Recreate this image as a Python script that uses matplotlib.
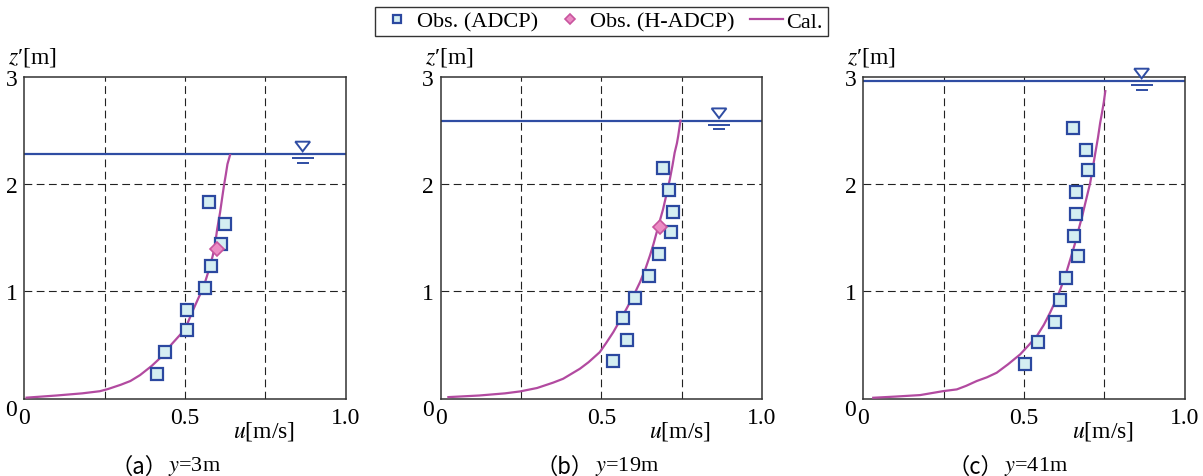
import matplotlib

matplotlib.use("Agg")
import matplotlib.pyplot as plt
from matplotlib.patches import Polygon
from matplotlib.transforms import blended_transform_factory

plt.rcParams["font.family"] = ["Liberation Serif", "Noto Sans CJK JP"]
plt.rcParams["mathtext.fontset"] = "stix"

SERIF = "Liberation Serif"

# observed (ADCP) velocity profiles, u [m/s] vs z' [m]
adcp_u_a = [0.412, 0.437, 0.506, 0.506, 0.562, 0.580, 0.611, 0.624, 0.574]
adcp_z_a = [0.233, 0.435, 0.637, 0.827, 1.032, 1.237, 1.446, 1.629, 1.834]
adcp_u_b = [0.537, 0.580, 0.568, 0.605, 0.649, 0.679, 0.716, 0.722, 0.710, 0.691]
adcp_z_b = [0.347, 0.549, 0.756, 0.939, 1.147, 1.351, 1.553, 1.742, 1.943, 2.148]
adcp_u_c = [0.502, 0.544, 0.595, 0.613, 0.631, 0.669, 0.657, 0.663, 0.663, 0.700,
            0.693, 0.651]
adcp_z_c = [0.323, 0.528, 0.714, 0.919, 1.124, 1.329, 1.516, 1.720, 1.925, 2.130,
            2.317, 2.522]

# H-ADCP points (no H-ADCP in panel c)
hadcp_u_a = [0.601]
hadcp_z_a = [1.396]
hadcp_u_b = [0.682]
hadcp_z_b = [1.602]

# computed profiles
cal_u_a = [0.007, 0.10, 0.18, 0.235, 0.26, 0.30, 0.33, 0.36, 0.396, 0.43, 0.458,
           0.48, 0.50, 0.513, 0.526, 0.542, 0.557, 0.568, 0.578, 0.586, 0.593,
           0.600, 0.609, 0.615, 0.621, 0.627, 0.632, 0.640]
cal_z_a = [0.01, 0.03, 0.05, 0.07, 0.09, 0.13, 0.165, 0.22, 0.305, 0.40, 0.507,
           0.58, 0.647, 0.74, 0.833, 0.94, 1.035, 1.14, 1.237, 1.33, 1.424,
           1.58, 1.735, 1.86, 1.983, 2.09, 2.186, 2.27]
cal_u_b = [0.024, 0.12, 0.20, 0.247, 0.30, 0.35, 0.381, 0.433, 0.46, 0.495, 0.515,
           0.537, 0.558, 0.578, 0.600, 0.620, 0.637, 0.651, 0.662, 0.672, 0.682,
           0.692, 0.703, 0.713, 0.721, 0.728, 0.735, 0.739, 0.746]
cal_z_b = [0.015, 0.03, 0.05, 0.068, 0.10, 0.15, 0.186, 0.279, 0.34, 0.434, 0.52,
           0.62, 0.73, 0.837, 0.96, 1.085, 1.21, 1.333, 1.44, 1.55, 1.66,
           1.767, 1.91, 2.045, 2.17, 2.293, 2.38, 2.448, 2.59]
cal_u_c = [0.031, 0.10, 0.177, 0.249, 0.291, 0.32, 0.353, 0.385, 0.415, 0.45,
           0.488, 0.515, 0.540, 0.562, 0.581, 0.598, 0.613, 0.630, 0.644, 0.658,
           0.670, 0.681, 0.691, 0.706, 0.714, 0.722, 0.730, 0.737, 0.743, 0.748,
           0.753]
cal_z_c = [0.009, 0.02, 0.034, 0.071, 0.087, 0.12, 0.165, 0.20, 0.242, 0.32,
           0.413, 0.50, 0.584, 0.69, 0.801, 0.91, 1.019, 1.16, 1.298, 1.44,
           1.578, 1.70, 1.826, 2.012, 2.15, 2.292, 2.43, 2.571, 2.67, 2.758,
           2.866]

water_levels = [2.28, 2.59, 2.96]
x_ticks = [0, 0.5, 1.0]
x_ticklabels = ["0", "0.5", "1.0"]
y_ticks = [0, 1, 2, 3]
y_ticklabels = ["0", "1", "2", "3"]
panel_tags = ["（a）", "（b）", "（c）"]
panel_y = ["$y$=3m", "$y$=19m", "$y$=41m"]

C_CAL = "#b24aa0"
C_SQ_EDGE = "#2b48a0"
C_SQ_FACE = "#d4eef2"
C_DIA_EDGE = "#c8559e"
C_DIA_FACE = "#ec8cc4"
C_WATER = "#2f4da3"

panels = [
    (adcp_u_a, adcp_z_a, hadcp_u_a, hadcp_z_a, cal_u_a, cal_z_a),
    (adcp_u_b, adcp_z_b, hadcp_u_b, hadcp_z_b, cal_u_b, cal_z_b),
    (adcp_u_c, adcp_z_c, [], [], cal_u_c, cal_z_c),
]
lefts = [0.0202, 0.3663, 0.7176]
tag_split = [0.444, 0.477, 0.435]

fig = plt.figure(figsize=(12.03, 4.77), dpi=100)
handles = None
for i, (au, az, hu, hz, cu, cz) in enumerate(panels):
    ax = fig.add_axes([lefts[i], 0.162, 0.2672, 0.675])
    ax.set_xlim(0, 1.0)
    ax.set_ylim(0, 3)
    ax.set_xticks(x_ticks)
    ax.set_xticklabels(x_ticklabels, fontfamily=SERIF, fontsize=17)
    ax.set_yticks(y_ticks)
    ax.set_yticklabels(y_ticklabels, fontfamily=SERIF, fontsize=17)
    ax.tick_params(length=0)
    ax.tick_params(axis="x", pad=6)
    ax.tick_params(axis="y", pad=5)
    # the bottom "0" sits a little lower than the axis line
    ax.get_yticklabels()[0].set_va("top")
    for s in ax.spines.values():
        s.set_color("#333333")
        s.set_linewidth(1.1)
    for gx in (0.25, 0.5, 0.75):
        ax.axvline(gx, color="#222222", lw=0.8, ls=(0, (7, 4)), zorder=1)
    for gz in (1, 2):
        ax.axhline(gz, color="#222222", lw=0.8, ls=(0, (7, 4)), zorder=1)

    # water surface and its symbol
    wl = water_levels[i]
    ax.axhline(wl, color=C_WATER, lw=1.6, zorder=2)
    tri = Polygon([[0.843, wl + 0.115], [0.889, wl + 0.115], [0.866, wl + 0.025]],
                  closed=True, fc="white", ec=C_WATER, lw=1.4, clip_on=False, zorder=3)
    ax.add_patch(tri)
    ax.plot([0.833, 0.900], [wl - 0.04, wl - 0.04], color=C_WATER, lw=1.4,
            clip_on=False, solid_capstyle="butt")
    ax.plot([0.848, 0.885], [wl - 0.08, wl - 0.08], color=C_WATER, lw=1.4,
            clip_on=False, solid_capstyle="butt")

    h1, = ax.plot(au, az, ls="none", marker="s", ms=8, mfc=C_SQ_FACE,
                  mec=C_SQ_EDGE, mew=1.6, zorder=4, label="Obs. (ADCP)")
    h2, = ax.plot(hu, hz, ls="none", marker="D", ms=7, mfc=C_DIA_FACE,
                  mec=C_DIA_EDGE, mew=1.2, zorder=5, label="Obs. (H-ADCP)")
    h3, = ax.plot(cu, cz, color=C_CAL, lw=1.6, zorder=3, label="Cal.")
    if handles is None:
        handles = [h1, h2, h3]

    ax.text(-0.05, 1.062, "$z$′[m]", transform=ax.transAxes, ha="left",
            va="center", fontsize=17, fontfamily=SERIF)
    ax.text(0.745, -0.10, "$u$[m/s]", transform=ax.transAxes, ha="center",
            va="center", fontsize=17, fontfamily=SERIF)

    tr = blended_transform_factory(ax.transAxes, fig.transFigure)
    ax.text(tag_split[i], 0.021, panel_tags[i], transform=tr, ha="right",
            va="center", fontsize=16, fontfamily="Noto Sans CJK JP")
    ax.text(tag_split[i] + 0.003, 0.021, panel_y[i], transform=tr, ha="left",
            va="center", fontsize=16, fontfamily=SERIF)

leg = fig.legend(handles=handles, loc="center", bbox_to_anchor=(0.5, 0.953),
                 ncol=3, frameon=True, fancybox=False,
                 handlelength=1.5, handletextpad=0.15, columnspacing=0.7,
                 borderpad=0.2, markerscale=0.75,
                 prop={"family": SERIF, "size": 16})
leg.get_frame().set_edgecolor("black")
leg.get_frame().set_linewidth(1.0)

fig.savefig("out.png", dpi=100)
